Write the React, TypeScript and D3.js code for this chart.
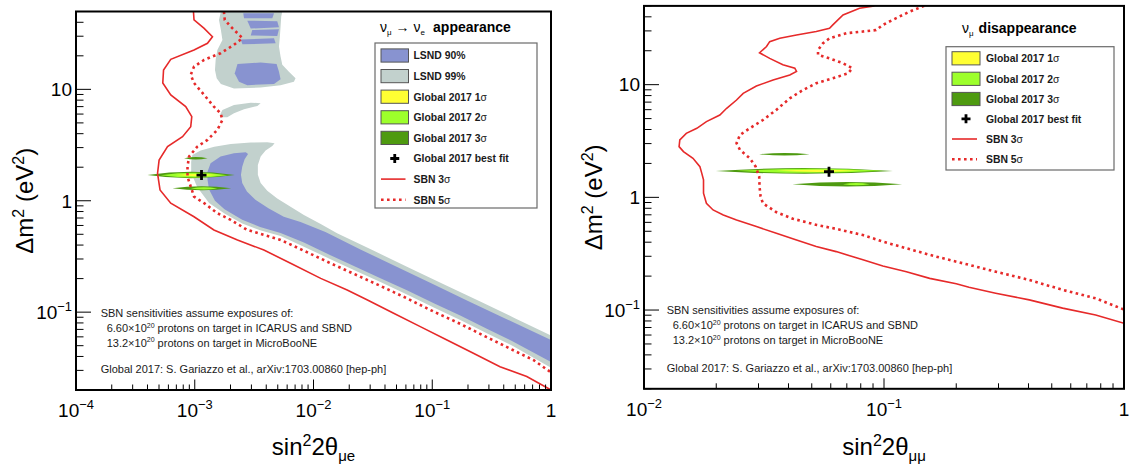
import React from "react";
import * as d3 from "d3";

type Pt = [number, number];
type TickLabel = { v: number; base: string; exp: string };
type Blob = { level: 1 | 2 | 3; x: Pt; y: Pt };

// ---------------- axes ----------------
const dm2Domain: Pt = [0.02, 50];
const appXDomain: Pt = [1e-4, 1];
const disXDomain: Pt = [1e-2, 1];

const dm2TickLabels: TickLabel[] = [
  { v: 0.1, base: "10", exp: "\u22121" },
  { v: 1, base: "1", exp: "" },
  { v: 10, base: "10", exp: "" },
];
const appXTickLabels: TickLabel[] = [
  { v: 1e-4, base: "10", exp: "\u22124" },
  { v: 1e-3, base: "10", exp: "\u22123" },
  { v: 1e-2, base: "10", exp: "\u22122" },
  { v: 1e-1, base: "10", exp: "\u22121" },
  { v: 1, base: "1", exp: "" },
];
const disXTickLabels: TickLabel[] = [
  { v: 1e-2, base: "10", exp: "\u22122" },
  { v: 1e-1, base: "10", exp: "\u22121" },
  { v: 1, base: "1", exp: "" },
];

// ---------------- nu_mu -> nu_e appearance ----------------
const appSBN3: Pt[] = [
  [9.75e-4, 50], [9.86e-4, 42.0], [1.2e-3, 35.3], [1.41e-3, 29.7], [1.28e-3, 25.9], [9.86e-4, 22.6],
  [6.28e-4, 18.6], [5.46e-4, 14.9], [5.38e-4, 11.4], [6.28e-4, 8.91], [8.39e-4, 7.0], [9.44e-4, 5.69],
  [9.25e-4, 4.62], [7.89e-4, 3.76], [5.9e-4, 3.06], [5.01e-4, 2.32], [4.86e-4, 1.76], [5.1e-4, 1.25],
  [6.28e-4, 0.951], [9.86e-4, 0.719], [1.45e-3, 0.547], [2.29e-3, 0.445], [3.82e-3, 0.361],
  [6.41e-3, 0.275], [1.15e-2, 0.201], [1.92e-2, 0.158], [2.82e-2, 0.129], [4.73e-2, 0.0977],
  [7.93e-2, 0.0741], [0.133, 0.0562], [0.222, 0.0428], [0.372, 0.0324], [0.625, 0.0264], [1.0, 0.02],
];
const appSBN5: Pt[] = [
  [1.76e-3, 50], [1.79e-3, 42.0], [2.01e-3, 36.6], [2.29e-3, 31.9], [2.52e-3, 28.8], [2.14e-3, 25.1],
  [1.65e-3, 21.1], [1.2e-3, 18.4], [9.86e-4, 16.0], [9.25e-4, 13.5], [9.86e-4, 11.4], [1.2e-3, 8.91],
  [1.45e-3, 7.0], [1.65e-3, 6.1], [1.71e-3, 5.31], [1.55e-3, 4.33], [1.28e-3, 3.52], [1.05e-3, 3.06],
  [8.95e-4, 2.49], [8.69e-4, 2.02], [8.69e-4, 1.64], [9.25e-4, 1.34], [9.86e-4, 1.09], [1.2e-3, 0.951],
  [1.55e-3, 0.773], [2.01e-3, 0.673], [2.77e-3, 0.547], [5.28e-3, 0.445], [8.3e-3, 0.356],
  [1.39e-2, 0.275], [2.33e-2, 0.214], [3.66e-2, 0.172], [6.12e-2, 0.133], [0.103, 0.101],
  [0.172, 0.0785], [0.288, 0.0596], [0.482, 0.0455], [0.71, 0.0372], [1.0, 0.0288],
];

const lsnd99Main: Pt[] = [
  [9.55e-4, 2.58], [1.12e-3, 2.82], [1.46e-3, 3.06], [2.01e-3, 3.24], [2.96e-3, 3.33], [4.08e-3, 3.35],
  [4.7e-3, 3.28], [4.5e-3, 3.1], [3.95e-3, 2.82], [3.59e-3, 2.49], [3.4e-3, 2.09], [3.4e-3, 1.71],
  [3.59e-3, 1.44], [4.08e-3, 1.23], [4.95e-3, 1.05], [6.41e-3, 0.885], [8.3e-3, 0.746], [1.15e-2, 0.619],
  [1.58e-2, 0.511], [3.16e-2, 0.359], [6.31e-2, 0.252], [0.126, 0.177], [0.251, 0.125], [0.501, 0.0879],
  [1.0, 0.0618],
  [1.0, 0.0316], [0.482, 0.0495], [0.288, 0.0646], [0.172, 0.0851], [0.103, 0.11], [0.0612, 0.144],
  [0.0366, 0.186], [0.0233, 0.232], [0.0139, 0.299], [8.3e-3, 0.386], [5.28e-3, 0.482], [3.55e-3, 0.543],
  [2.51e-3, 0.624], [1.78e-3, 0.767], [1.32e-3, 0.955], [1.05e-3, 1.32], [9.33e-4, 1.78], [9.33e-4, 2.24],
];
const lsnd99Top: Pt[] = [
  [1.66e-3, 50], [1.6e-3, 42.0], [1.66e-3, 34.1], [1.71e-3, 27.7], [1.55e-3, 22.6], [1.5e-3, 18.4],
  [1.48e-3, 14.9], [1.53e-3, 12.6], [1.66e-3, 11.2], [2.14e-3, 10.2], [3.59e-3, 10.4], [5.28e-3, 10.9],
  [6.84e-3, 11.7], [7.06e-3, 12.6], [6.21e-3, 14.4], [5.46e-3, 16.6], [5.28e-3, 19.7], [5.12e-3, 24.2],
  [5.21e-3, 29.7], [5.28e-3, 36.6], [5.35e-3, 45.0], [5.46e-3, 50],
];
const lsnd99Mid: Pt[] = [
  [1.63e-3, 5.89], [1.71e-3, 6.53], [2.14e-3, 7.24], [2.96e-3, 7.6], [3.59e-3, 7.5], [3.37e-3, 7.1],
  [2.6e-3, 6.62], [2.14e-3, 6.1], [1.88e-3, 5.61], [1.66e-3, 5.61],
];
const lsnd90Main: Pt[] = [
  [1.28e-3, 1.82], [1.36e-3, 2.17], [1.65e-3, 2.49], [2.14e-3, 2.67], [2.69e-3, 2.72], [2.81e-3, 2.63],
  [2.63e-3, 2.36], [2.51e-3, 2.02], [2.45e-3, 1.71], [2.51e-3, 1.44], [2.75e-3, 1.21], [3.24e-3, 1.02],
  [4.17e-3, 0.855], [5.62e-3, 0.72], [7.78e-3, 0.646], [1.26e-2, 0.525], [2.51e-2, 0.363],
  [5.01e-2, 0.256], [0.1, 0.18], [0.2, 0.126], [0.398, 0.0891], [1.0, 0.0562],
  [1.0, 0.0357], [0.482, 0.0543], [0.288, 0.0708], [0.172, 0.0933], [0.103, 0.12], [0.0612, 0.157],
  [0.0366, 0.202], [0.0233, 0.251], [0.0139, 0.324], [8.3e-3, 0.422], [5.28e-3, 0.513], [3.55e-3, 0.582],
  [2.51e-3, 0.676], [1.78e-3, 0.841], [1.48e-3, 1.0], [1.32e-3, 1.26], [1.28e-3, 1.55],
];
const lsnd90Top: Pt[][] = [
  [[2.56e-3, 48.2], [4.65e-3, 48.2], [4.5e-3, 43.4], [2.6e-3, 43.4]],
  [[2.77e-3, 41.4], [4.95e-3, 40.8], [5.12e-3, 36.1], [2.96e-3, 35.1]],
  [[3.05e-3, 34.1], [5.12e-3, 34.6], [4.95e-3, 30.1], [2.96e-3, 30.5]],
  [[2.44e-3, 28.1], [4.65e-3, 28.7], [4.8e-3, 25.9], [2.52e-3, 25.4]],
  [[2.29e-3, 16.9], [3.59e-3, 17.4], [4.89e-3, 16.9], [5.12e-3, 14.4], [5.28e-3, 12.3], [4.65e-3, 11.2],
   [2.77e-3, 10.9], [2.36e-3, 11.7], [2.17e-3, 13.9]],
];
const appGlobal: Blob[] = [
  { level: 3, x: [4.0e-4, 2.17e-3], y: [1.59, 1.82] },
  { level: 3, x: [8.13e-4, 1.28e-3], y: [2.34, 2.47] },
  { level: 3, x: [6.49e-4, 2.03e-3], y: [1.24, 1.35] },
  { level: 2, x: [5.18e-4, 1.88e-3], y: [1.62, 1.78] },
  { level: 2, x: [9.25e-4, 1.55e-3], y: [1.26, 1.32] },
  { level: 1, x: [6.92e-4, 1.55e-3], y: [1.66, 1.74] },
];
const appBestFit: Pt = [1.14e-3, 1.7];

// ---------------- nu_mu disappearance ----------------
const disSBN3: Pt[] = [
  [0.0912, 50], [0.0791, 47.6], [0.0675, 41.6], [0.0612, 33.9], [0.0593, 31.6], [0.0522, 29.6],
  [0.0432, 27.6], [0.0368, 25.8], [0.0334, 24.1], [0.0324, 21.8], [0.0303, 19.2], [0.0334, 17.1],
  [0.0379, 15.0], [0.0425, 14.0], [0.0432, 13.1], [0.0405, 12.2], [0.0345, 11.0], [0.0294, 9.73],
  [0.0259, 8.38], [0.0243, 7.31], [0.0221, 6.17], [0.0207, 5.38], [0.0182, 4.7], [0.0166, 4.1],
  [0.015, 3.7], [0.0141, 3.23], [0.014, 2.82], [0.0146, 2.55], [0.016, 2.22], [0.0171, 1.87],
  [0.0174, 1.64], [0.0177, 1.43], [0.0177, 1.24], [0.0177, 1.09], [0.0182, 0.885], [0.0194, 0.773],
  [0.0214, 0.698], [0.0243, 0.631], [0.0294, 0.55], [0.0356, 0.48], [0.0432, 0.419], [0.0522, 0.366],
  [0.0632, 0.33], [0.0817, 0.279], [0.0989, 0.246], [0.124, 0.219], [0.155, 0.191], [0.2, 0.171],
  [0.226, 0.159], [0.292, 0.141], [0.403, 0.123], [0.555, 0.104], [0.762, 0.0904], [1.0, 0.0764],
];
const disSBN5: Pt[] = [
  [0.147, 50], [0.128, 44.5], [0.112, 38.8], [0.0989, 33.9], [0.0927, 30.5], [0.0817, 29.6],
  [0.0697, 28.6], [0.0593, 25.8], [0.0557, 23.3], [0.0531, 20.3], [0.0531, 18.4], [0.0593, 17.1],
  [0.0675, 15.5], [0.0738, 14.0], [0.0708, 12.6], [0.0612, 11.4], [0.0522, 10.3], [0.046, 8.97],
  [0.0405, 7.57], [0.0356, 5.97], [0.0313, 4.86], [0.0276, 4.1], [0.0251, 3.58], [0.0243, 3.02],
  [0.0251, 2.64], [0.0276, 2.22], [0.0292, 1.87], [0.0302, 1.53], [0.0303, 1.24], [0.0306, 1.02],
  [0.0313, 0.885], [0.0355, 0.741], [0.0417, 0.646], [0.0525, 0.569], [0.0632, 0.525], [0.0817, 0.463],
  [0.0989, 0.405], [0.124, 0.353], [0.165, 0.298], [0.213, 0.26], [0.292, 0.219], [0.403, 0.185],
  [0.555, 0.151], [0.762, 0.127], [1.0, 0.101],
];
const disGlobal: Blob[] = [
  { level: 3, x: [0.0199, 0.109], y: [1.62, 1.82] },
  { level: 3, x: [0.0302, 0.049], y: [2.35, 2.48] },
  { level: 3, x: [0.0415, 0.119], y: [1.25, 1.37] },
  { level: 2, x: [0.0243, 0.0989], y: [1.65, 1.79] },
  { level: 2, x: [0.0675, 0.0871], y: [1.28, 1.34] },
  { level: 1, x: [0.0356, 0.0791], y: [1.68, 1.76] },
];
const disBestFit: Pt = [0.059, 1.69];

// ---------------- styling ----------------
const FONT = "'Liberation Sans', Arial, Helvetica, sans-serif";
const C = {
  lsnd90: "#8893d0",
  lsnd99: "#c2d1cd",
  g1: "#ffff33",
  g2: "#9dff2b",
  g3: "#4e9a10",
  red: "#e62a2a",
  text: "#1a1a1a",
};
const blobFill: Record<number, string> = { 1: C.g1, 2: C.g2, 3: C.g3 };

type Frame = { x0: number; x1: number; y0: number; y1: number };

const isDecade = (v: number) => Math.abs(Math.log10(v) - Math.round(Math.log10(v))) < 1e-9;

function Pow({ x, y, t, anchor, fs }: { x: number; y: number; t: TickLabel; anchor: string; fs: number }) {
  return (
    <text x={x} y={y} textAnchor={anchor} fontSize={fs} fill="#000">
      {t.base}
      {t.exp && (
        <tspan dy={-fs * 0.42} fontSize={fs * 0.68}>
          {t.exp}
        </tspan>
      )}
    </text>
  );
}

function Panel(props: {
  id: string;
  f: Frame;
  xDomain: Pt;
  xLabels: TickLabel[];
  xSub: string;
  sbn3: Pt[];
  sbn5: Pt[];
  gray: Pt[][];
  blue: Pt[][];
  blobs: Blob[];
  best: Pt;
  yTitleX: number;
}) {
  const { f } = props;
  const x = d3.scaleLog().domain(props.xDomain).range([f.x0, f.x1]);
  const y = d3.scaleLog().domain(dm2Domain).range([f.y1, f.y0]);
  const line = d3
    .line<Pt>()
    .x((d) => x(d[0]))
    .y((d) => y(d[1]));
  const poly = (p: Pt[]) => (line(p) || "") + "Z";
  const xMinor = x.ticks().filter((v) => !isDecade(v));
  const yMinor = y.ticks().filter((v) => !isDecade(v));
  const bx = x(props.best[0]);
  const by = y(props.best[1]);
  const blobs = [...props.blobs].sort((a, b) => b.level - a.level);
  const cx = (f.x0 + f.x1) / 2;
  const cy = (f.y0 + f.y1) / 2;
  return (
    <g>
      <defs>
        <clipPath id={props.id}>
          <rect x={f.x0} y={f.y0} width={f.x1 - f.x0} height={f.y1 - f.y0} />
        </clipPath>
      </defs>
      <g clipPath={`url(#${props.id})`}>
        {props.gray.map((p, i) => (
          <path key={"g" + i} d={poly(p)} fill={C.lsnd99} />
        ))}
        {props.blue.map((p, i) => (
          <path key={"b" + i} d={poly(p)} fill={C.lsnd90} />
        ))}
        {blobs.map((b, i) => {
          const x0 = x(b.x[0]);
          const x1 = x(b.x[1]);
          const yc = (y(b.y[0]) + y(b.y[1])) / 2;
          const h = Math.abs(y(b.y[0]) - y(b.y[1]));
          const mx = (x0 + x1) / 2;
          return (
            <path
              key={"e" + i}
              d={`M${x0},${yc}Q${mx},${yc - h} ${x1},${yc}Q${mx},${yc + h} ${x0},${yc}Z`}
              fill={blobFill[b.level]}
            />
          );
        })}
        <path d={line(props.sbn3) || ""} fill="none" stroke={C.red} strokeWidth={1.6} />
        <path
          d={line(props.sbn5) || ""}
          fill="none"
          stroke={C.red}
          strokeWidth={2.6}
          strokeDasharray="2.6 3.4"
        />
        <path
          d={`M${bx - 5},${by}H${bx + 5}M${bx},${by - 5}V${by + 5}`}
          stroke="#000"
          strokeWidth={2.8}
          fill="none"
        />
      </g>
      {/* ticks */}
      {xMinor.map((v, i) => (
        <line key={"xm" + i} x1={x(v)} x2={x(v)} y1={f.y1} y2={f.y1 - 5.5} stroke="#000" strokeWidth={1} />
      ))}
      {props.xLabels.map((t, i) => (
        <line key={"xM" + i} x1={x(t.v)} x2={x(t.v)} y1={f.y1} y2={f.y1 - 10.5} stroke="#000" strokeWidth={1} />
      ))}
      {yMinor.map((v, i) => (
        <line key={"ym" + i} x1={f.x0} x2={f.x0 + 7.5} y1={y(v)} y2={y(v)} stroke="#000" strokeWidth={1} />
      ))}
      {dm2TickLabels.map((t, i) => (
        <line key={"yM" + i} x1={f.x0} x2={f.x0 + 15} y1={y(t.v)} y2={y(t.v)} stroke="#000" strokeWidth={1} />
      ))}
      <rect x={f.x0} y={f.y0} width={f.x1 - f.x0} height={f.y1 - f.y0} fill="none" stroke="#000" strokeWidth={2} />
      {/* tick labels */}
      {props.xLabels.map((t, i) => (
        <Pow key={"xl" + i} x={x(t.v)} y={f.y1 + 27} t={t} anchor="middle" fs={19} />
      ))}
      {dm2TickLabels.map((t, i) => (
        <Pow key={"yl" + i} x={f.x0 - 4} y={y(t.v) + 6.8} t={t} anchor="end" fs={19} />
      ))}
      {/* axis titles */}
      <text x={cx} y={455} textAnchor="middle" fontSize={24} fill="#000">
        sin
        <tspan dy={-9} fontSize={16}>
          2
        </tspan>
        <tspan dy={9}>2θ</tspan>
        <tspan dy={6} fontSize={15}>
          {props.xSub}
        </tspan>
      </text>
      <text
        transform={`translate(${props.yTitleX},${cy}) rotate(-90)`}
        textAnchor="middle"
        fontSize={24}
        fill="#000"
      >
        Δm
        <tspan dy={-9} fontSize={16}>
          2
        </tspan>
        <tspan dy={9}> (eV</tspan>
        <tspan dy={-9} fontSize={16}>
          2
        </tspan>
        <tspan dy={9}>)</tspan>
      </text>
    </g>
  );
}

type LegendEntry =
  | { kind: "fill"; color: string; label: string; sigma?: boolean }
  | { kind: "best"; label: string }
  | { kind: "solid" | "dotted"; label: string; sigma?: boolean };

function Legend({
  box,
  rows,
  swX,
  swW,
  txtX,
  entries,
}: {
  box: { x: number; y: number; w: number; h: number };
  rows: number[];
  swX: number;
  swW: number;
  txtX: number;
  entries: LegendEntry[];
}) {
  return (
    <g>
      <rect x={box.x} y={box.y} width={box.w} height={box.h} fill="#fff" stroke="#6a6a6a" strokeWidth={1.2} />
      {entries.map((e, i) => {
        const yc = rows[i];
        let sym: React.ReactNode = null;
        if (e.kind === "fill")
          sym = <rect x={swX} y={yc - 6.6} width={swW} height={13.2} fill={e.color} stroke="#555" strokeWidth={1} />;
        else if (e.kind === "best") {
          const mx = swX + swW / 2;
          sym = (
            <path d={`M${mx - 4.5},${yc}H${mx + 4.5}M${mx},${yc - 4.5}V${yc + 4.5}`} stroke="#000" strokeWidth={2.8} />
          );
        } else if (e.kind === "solid")
          sym = <line x1={swX} x2={swX + swW - 3} y1={yc} y2={yc} stroke={C.red} strokeWidth={1.6} />;
        else
          sym = (
            <line
              x1={swX}
              x2={swX + swW - 3}
              y1={yc}
              y2={yc}
              stroke={C.red}
              strokeWidth={2.6}
              strokeDasharray="2.6 3.4"
            />
          );
        return (
          <g key={i}>
            {sym}
            <text x={txtX} y={yc + 3.8} fontSize={10.4} fontWeight="bold" fill={C.text}>
              {e.label}
              {"sigma" in e && e.sigma && <tspan fontWeight="normal">σ</tspan>}
            </text>
          </g>
        );
      })}
    </g>
  );
}

function Notes({ x, ys }: { x: number; ys: number[] }) {
  const fs = 11;
  return (
    <g fontSize={fs} fill={C.text}>
      <text x={x} y={ys[0]}>SBN sensitivities assume exposures of:</text>
      <text x={x + 6} y={ys[1]}>
        6.60×10
        <tspan dy={-4.5} fontSize={7}>
          20
        </tspan>
        <tspan dy={4.5}> protons on target in ICARUS and SBND</tspan>
      </text>
      <text x={x + 6} y={ys[2]}>
        13.2×10
        <tspan dy={-4.5} fontSize={7}>
          20
        </tspan>
        <tspan dy={4.5}> protons on target in MicroBooNE</tspan>
      </text>
      <text x={x} y={ys[3]}>Global 2017: S. Gariazzo et al., arXiv:1703.00860 [hep-ph]</text>
    </g>
  );
}

export default function App() {
  const leftF: Frame = { x0: 76, x1: 551, y0: 11.5, y1: 390 };
  const rightF: Frame = { x0: 644, x1: 1124, y0: 5.9, y1: 388.8 };
  const appEntries: LegendEntry[] = [
    { kind: "fill", color: C.lsnd90, label: "LSND 90%" },
    { kind: "fill", color: C.lsnd99, label: "LSND 99%" },
    { kind: "fill", color: C.g1, label: "Global 2017 1", sigma: true },
    { kind: "fill", color: C.g2, label: "Global 2017 2", sigma: true },
    { kind: "fill", color: C.g3, label: "Global 2017 3", sigma: true },
    { kind: "best", label: "Global 2017 best fit" },
    { kind: "solid", label: "SBN 3", sigma: true },
    { kind: "dotted", label: "SBN 5", sigma: true },
  ];
  const disEntries = appEntries.slice(2);
  return (
    <div style={{ position: "absolute", left: 0, top: 0 }}>
      <svg width={1131} height={467} fontFamily={FONT} style={{ display: "block", background: "#fff" }}>
        <Panel
          id="clipApp"
          f={leftF}
          xDomain={appXDomain}
          xLabels={appXTickLabels}
          xSub="μe"
          sbn3={appSBN3}
          sbn5={appSBN5}
          gray={[lsnd99Top, lsnd99Mid, lsnd99Main]}
          blue={[...lsnd90Top, lsnd90Main]}
          blobs={appGlobal}
          best={appBestFit}
          yTitleX={33}
        />
        <Panel
          id="clipDis"
          f={rightF}
          xDomain={disXDomain}
          xLabels={disXTickLabels}
          xSub="μμ"
          sbn3={disSBN3}
          sbn5={disSBN5}
          gray={[]}
          blue={[]}
          blobs={disGlobal}
          best={disBestFit}
          yTitleX={602}
        />
        {/* left legend */}
        <text x={380} y={31.7} fontSize={14} fill="#000">
          ν
          <tspan dy={3} fontSize={8}>
            μ
          </tspan>
          <tspan dy={-3} dx={4}>
            →
          </tspan>
          <tspan dx={4}>ν</tspan>
          <tspan dy={3} fontSize={8}>
            e
          </tspan>
          <tspan dy={-3} dx={8} fontWeight="bold">
            appearance
          </tspan>
        </text>
        <Legend
          box={{ x: 375, y: 43, w: 162, h: 165 }}
          rows={[55.5, 76.1, 96.7, 117.3, 137.9, 158.5, 179.1, 199.7]}
          swX={381}
          swW={27.5}
          txtX={413.5}
          entries={appEntries}
        />
        {/* right legend */}
        <text x={962} y={33.3} fontSize={14} fill="#000">
          ν
          <tspan dy={3} fontSize={8}>
            μ
          </tspan>
          <tspan dy={-3} dx={5} fontWeight="bold">
            disappearance
          </tspan>
        </text>
        <Legend
          box={{ x: 946, y: 46.7, w: 168, h: 123.3 }}
          rows={[58.3, 78.8, 99, 118.8, 139, 159.3]}
          swX={952}
          swW={28}
          txtX={986}
          entries={disEntries}
        />
        <Notes x={100.7} ys={[317, 332, 346.5, 373]} />
        <Notes x={666.7} ys={[314, 329, 344, 371.5]} />
      </svg>
    </div>
  );
}
